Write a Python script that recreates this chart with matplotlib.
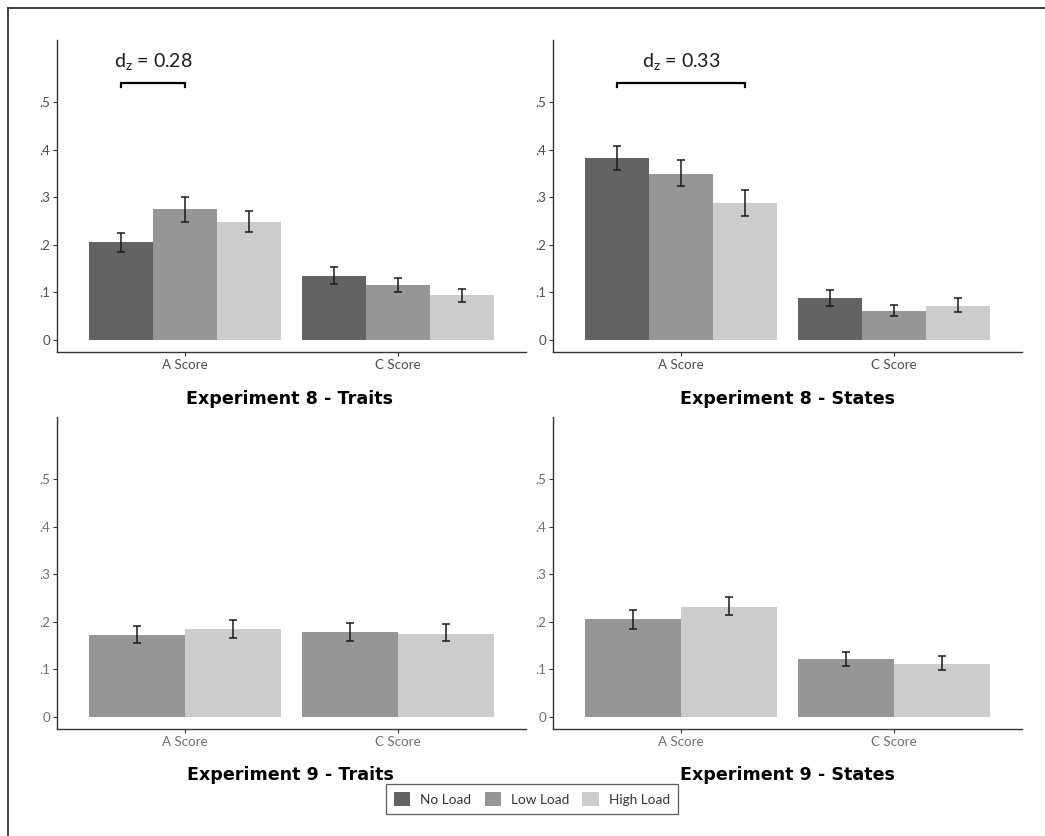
import matplotlib
matplotlib.use("Agg")
import matplotlib.pyplot as plt
from matplotlib.lines import Line2D
from matplotlib.patches import Patch
import numpy as np

plt.rcParams["mathtext.fontset"] = "custom"
plt.rcParams["mathtext.rm"] = "Lato"

scores = ["A Score", "C Score"]
loads = ["No Load", "Low Load", "High Load"]
load_colors = ["#636363", "#969696", "#cccccc"]

# Experiment 8 - Traits (No / Low / High load), means and error bar limits
exp8_traits = {"No Load": [0.205, 0.135], "Low Load": [0.275, 0.115], "High Load": [0.248, 0.094]}
exp8_traits_lo = {"No Load": [0.185, 0.117], "Low Load": [0.248, 0.100], "High Load": [0.226, 0.080]}
exp8_traits_hi = {"No Load": [0.225, 0.153], "Low Load": [0.300, 0.130], "High Load": [0.270, 0.108]}

# Experiment 8 - States
exp8_states = {"No Load": [0.383, 0.089], "Low Load": [0.349, 0.062], "High Load": [0.288, 0.072]}
exp8_states_lo = {"No Load": [0.357, 0.072], "Low Load": [0.323, 0.050], "High Load": [0.261, 0.058]}
exp8_states_hi = {"No Load": [0.408, 0.105], "Low Load": [0.378, 0.074], "High Load": [0.315, 0.088]}

# Experiment 9 - Traits (no "No Load" condition)
exp9_traits = {"Low Load": [0.173, 0.178], "High Load": [0.184, 0.175]}
exp9_traits_lo = {"Low Load": [0.156, 0.160], "High Load": [0.166, 0.159]}
exp9_traits_hi = {"Low Load": [0.192, 0.198], "High Load": [0.204, 0.195]}

# Experiment 9 - States
exp9_states = {"Low Load": [0.205, 0.121], "High Load": [0.232, 0.112]}
exp9_states_lo = {"Low Load": [0.184, 0.107], "High Load": [0.214, 0.098]}
exp9_states_hi = {"Low Load": [0.225, 0.137], "High Load": [0.253, 0.128]}

panel_titles = ["Experiment 8 - Traits", "Experiment 8 - States",
                "Experiment 9 - Traits", "Experiment 9 - States"]
effect_labels = ["0.28", "0.33"]
y_ticks = [0, 0.1, 0.2, 0.3, 0.4, 0.5]
y_tick_labels = ["0", ".1", ".2", ".3", ".4", ".5"]

W, H = 1045, 836
fig = plt.figure(figsize=(W / 100, H / 100), dpi=100)


def px_axes(x0, y0, x1, y1):
    return fig.add_axes([x0 / W, 1 - y1 / H, (x1 - x0) / W, (y1 - y0) / H])


def draw_panel(ax, means, lo, hi, label_color):
    present = [l for l in loads if l in means]
    n = len(present)
    width = 0.9 / n
    x = np.arange(1, len(scores) + 1)
    for i, load in enumerate(present):
        pos = x + (i - (n - 1) / 2) * width
        m = np.array(means[load])
        err = [m - np.array(lo[load]), np.array(hi[load]) - m]
        ax.bar(pos, m, width=width, color=load_colors[loads.index(load)], linewidth=0)
        ax.errorbar(pos, m, yerr=err, fmt="none", ecolor="#1a1a1a",
                    elinewidth=1.1, capsize=3.2, capthick=1.1)
    ax.set_xlim(0.4, 2.6)
    ax.set_ylim(-0.025, 0.63)
    ax.set_xticks(x)
    ax.set_xticklabels(scores, fontsize=9.6, family="Lato", color=label_color)
    ax.set_yticks(y_ticks)
    ax.set_yticklabels(y_tick_labels, fontsize=9.6, family="Lato", color=label_color)
    for side in ["top", "right"]:
        ax.spines[side].set_visible(False)
    for side in ["left", "bottom"]:
        ax.spines[side].set_color("#333333")
        ax.spines[side].set_linewidth(1.0)
    ax.tick_params(length=3, width=0.8, color="#333333", pad=2)


def draw_bracket(ax, x0, x1, y, text):
    ax.plot([x0, x0, x1, x1], [y - 0.009, y, y, y - 0.009], color="black", lw=1.6,
            solid_joinstyle="miter")
    ax.text((x0 + x1) / 2, y + 0.022, r"$\mathregular{d_z}$ = " + text,
            ha="center", va="bottom", fontsize=14, family="Lato", color="#1a1a1a")


ax1 = px_axes(57, 40, 526, 352)
draw_panel(ax1, exp8_traits, exp8_traits_lo, exp8_traits_hi, "#4d4d4d")
draw_bracket(ax1, 0.7, 1.0, 0.54, effect_labels[0])

ax2 = px_axes(553, 40, 1022, 352)
draw_panel(ax2, exp8_states, exp8_states_lo, exp8_states_hi, "#4d4d4d")
draw_bracket(ax2, 0.7, 1.3, 0.54, effect_labels[1])

ax3 = px_axes(57, 417, 526, 729)
draw_panel(ax3, exp9_traits, exp9_traits_lo, exp9_traits_hi, "#6e6e6e")

ax4 = px_axes(553, 417, 1022, 729)
draw_panel(ax4, exp9_states, exp9_states_lo, exp9_states_hi, "#6e6e6e")

title_pos = [(290, 399), (787, 399), (290, 775), (787, 775)]
for (tx, ty), title in zip(title_pos, panel_titles):
    fig.text(tx / W, 1 - ty / H, title, ha="center", va="center",
             fontsize=12.6, fontweight="bold", family="DejaVu Sans")

handles = [Patch(facecolor=c, edgecolor="none") for c in load_colors]
leg = fig.legend(handles, loads, loc="center", bbox_to_anchor=(532 / W, 1 - 799 / H),
                 ncol=3, frameon=True, fancybox=False, prop={"family": "Lato", "size": 9.8},
                 handlelength=1.2, handleheight=1.2, handletextpad=0.75, columnspacing=0.95,
                 borderpad=0.6, labelcolor="#333333")
leg.get_frame().set_edgecolor("#333333")
leg.get_frame().set_linewidth(0.9)

# outer frame lines along the top and left edges
fig.add_artist(Line2D([8 / W, 1], [1 - 8 / H, 1 - 8 / H], color="#333333", lw=1.3))
fig.add_artist(Line2D([8 / W, 8 / W], [0, 1 - 8 / H], color="#333333", lw=1.3))

fig.savefig("out.png", dpi=100)
